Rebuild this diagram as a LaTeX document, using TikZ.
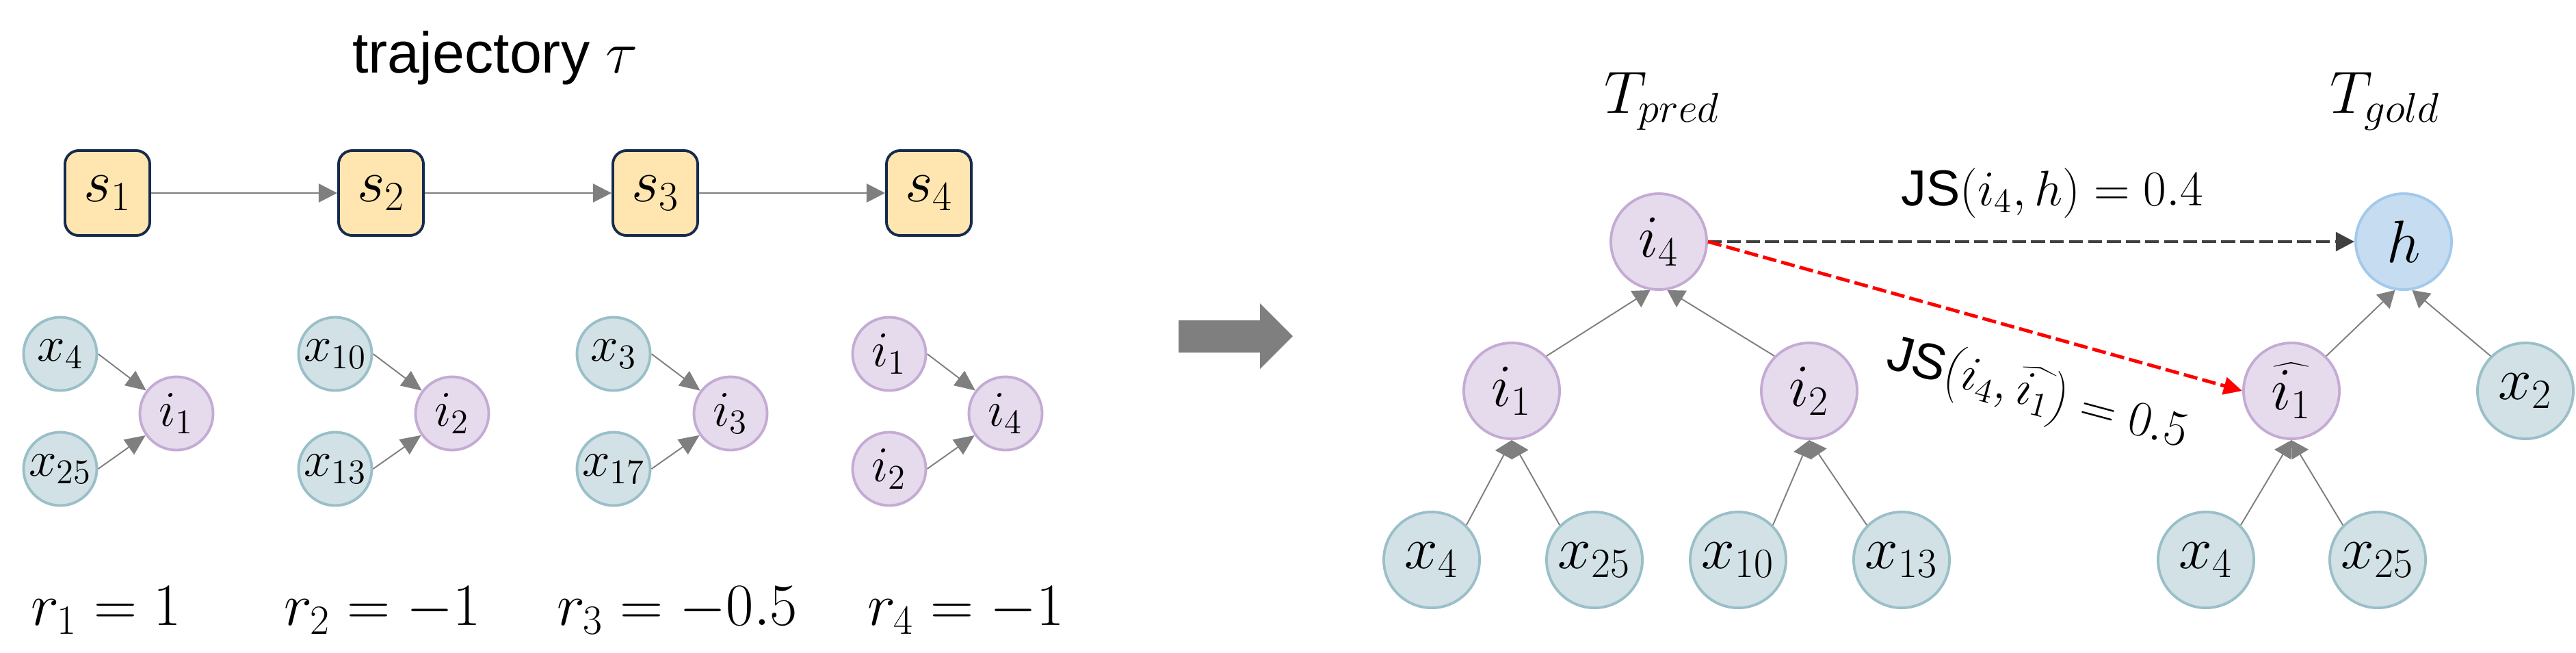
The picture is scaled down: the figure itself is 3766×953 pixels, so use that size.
\documentclass[tikz,border=0pt]{standalone}
\usepackage{fontspec}
\newfontfamily\arialf{Liberation Sans}
\usetikzlibrary{arrows.meta}
\definecolor{xfill}{HTML}{D1E1E6}
\definecolor{xline}{HTML}{9ABFC8}
\definecolor{ifill}{HTML}{E6DBEC}
\definecolor{iline}{HTML}{C4ABD4}
\definecolor{hfill}{HTML}{C5DCF1}
\definecolor{hline}{HTML}{A3C9EC}
\definecolor{sfill}{HTML}{FFE5AF}
\definecolor{sline}{HTML}{162A4E}
\definecolor{conngray}{HTML}{7F7F7F}
\definecolor{darkgray}{HTML}{404040}
\definecolor{redline}{HTML}{FF0000}
\tikzset{
  smallx/.style={circle, draw=xline, fill=xfill, line width=1.1pt, minimum size=1.07cm, inner sep=0pt, font=\fontsize{22}{26}\selectfont},
  smalli/.style={smallx, draw=iline, fill=ifill},
  bigx/.style={circle, draw=xline, fill=xfill, line width=1.1pt, minimum size=1.40cm, inner sep=0pt, font=\fontsize{25}{30}\selectfont},
  bigi/.style={bigx, draw=iline, fill=ifill},
  bigh/.style={bigx, draw=hline, fill=hfill},
  sbox/.style={rectangle, rounded corners=0.2cm, draw=sline, fill=sfill, line width=1.1pt, minimum size=1.24cm, inner sep=0pt, font=\fontsize{25}{30}\selectfont},
  trarrow/.style={draw=conngray, line width=0.7pt, -{Triangle[length=7.7pt,width=7.7pt]}},
  smallarrow/.style={draw=conngray, line width=0.55pt, -{Triangle[length=8.5pt,width=7.5pt]}},
  treearrow/.style={draw=conngray, line width=0.55pt, -{Triangle[length=7pt,width=8pt]}},
  mathlbl/.style={anchor=base, font=\fontsize{24}{28}\selectfont},
  tlbl/.style={anchor=base, font=\fontsize{25}{30}\selectfont},
  jslbl/.style={font=\fontsize{21}{25}\selectfont},
}
\begin{document}
\begin{tikzpicture}[x=0.01cm,y=-0.01cm]
\useasboundingbox (0,0) rectangle (3766,953);

% title
\node[anchor=base, font=\arialf\fontsize{24}{28}\selectfont] (title) at (724,106) {trajectory $\tau$};

% trajectory boxes
\node[sbox] (s1) at (157,282) {$s_1$};
\node[sbox] (s2) at (557,282) {$s_2$};
\node[sbox] (s3) at (958,282) {$s_3$};
\node[sbox] (s4) at (1358,282) {$s_4$};
\draw[trarrow] (s1) -- (s2);
\draw[trarrow] (s2) -- (s3);
\draw[trarrow] (s3) -- (s4);

% small graphs
\node[smallx] (ax4) at (88,517) {$x_4$};
\node[smallx] (ax25) at (88,685) {$x_{25}$};
\node[smalli] (ai1) at (258,604) {$i_1$};
\draw[smallarrow] (ax4.east) -- (ai1);
\draw[smallarrow] (ax25.east) -- (ai1);

\node[smallx] (bx10) at (490,517) {$x_{10}$};
\node[smallx] (bx13) at (490,685) {$x_{13}$};
\node[smalli] (bi2) at (661,604) {$i_2$};
\draw[smallarrow] (bx10.east) -- (bi2);
\draw[smallarrow] (bx13.east) -- (bi2);

\node[smallx] (cx3) at (897,517) {$x_3$};
\node[smallx] (cx17) at (897,685) {$x_{17}$};
\node[smalli] (ci3) at (1068,604) {$i_3$};
\draw[smallarrow] (cx3.east) -- (ci3);
\draw[smallarrow] (cx17.east) -- (ci3);

\node[smalli] (di1) at (1300,517) {$i_1$};
\node[smalli] (di2) at (1300,685) {$i_2$};
\node[smalli] (di4) at (1470,604) {$i_4$};
\draw[smallarrow] (di1.east) -- (di4);
\draw[smallarrow] (di2.east) -- (di4);

% rewards
\node[mathlbl] (r1) at (155,913) {$r_1 = 1$};
\node[mathlbl] (r2) at (559,913) {$r_2 = -1$};
\node[mathlbl] (r3) at (990,913) {$r_3 = -0.5$};
\node[mathlbl] (r4) at (1412,913) {$r_4 = -1$};

% big arrow
\fill[conngray] (1723,468) -- (1842,468) -- (1842,443) -- (1890,491) -- (1842,539) -- (1842,515) -- (1723,515) -- cycle;

% tree labels
\node[tlbl] (tpred) at (2430,165) {$T_{pred}$};
\node[tlbl] (tgold) at (3487,165) {$T_{gold}$};

% predicted tree
\node[bigi] (pi4) at (2425,353) {$i_4$};
\node[bigi] (pi1) at (2210,571) {$i_1$};
\node[bigi] (pi2) at (2645,571) {$i_2$};
\node[bigx] (px4) at (2093,818) {$x_4$};
\node[bigx] (px25) at (2331,818) {$x_{25}$};
\node[bigx] (px10) at (2541,818) {$x_{10}$};
\node[bigx] (px13) at (2780,818) {$x_{13}$};
\draw[treearrow] (pi1.45) -- (pi4.260);
\draw[treearrow] (pi2.135) -- (pi4.280);
\draw[treearrow] (px4.45) -- (pi1.south);
\draw[treearrow] (px25.135) -- (pi1.south);
\draw[treearrow] (px10.45) -- (pi2.south);
\draw[treearrow] (px13.135) -- (pi2.south);

% gold tree
\node[bigh] (gh) at (3514,353) {$h$};
\node[bigi] (gi1) at (3350,571) {$\widehat{i_1}$};
\node[bigx] (gx2) at (3692,571) {$x_2$};
\node[bigx] (gx4) at (3225,818) {$x_4$};
\node[bigx] (gx25) at (3476,818) {$x_{25}$};
\draw[treearrow] (gi1.45) -- (gh.260);
\draw[treearrow] (gx2.135) -- (gh.280);
\draw[treearrow] (gx4.45) -- (gi1.south);
\draw[treearrow] (gx25.135) -- (gi1.south);

% JS arrows
\draw[draw=darkgray, line width=1.4pt, dash pattern=on 5.8pt off 2.1pt, -{Triangle[length=7.7pt,width=7.7pt]}] (pi4.east) -- (gh.west);
\draw[draw=redline, line width=1.4pt, dash pattern=on 5.8pt off 2.1pt, -{Triangle[length=7.7pt,width=7.2pt]}] (pi4.east) -- (gi1.west);
\node[jslbl, anchor=base] (js1) at (3000,300) {{\arialf JS}$(i_4, h) = 0.4$};
\node[jslbl, rotate=-15] (js2) at (2978,578) {{\arialf JS}$\left(i_4, \widehat{i_1}\right) = 0.5$};
\end{tikzpicture}
\end{document}
